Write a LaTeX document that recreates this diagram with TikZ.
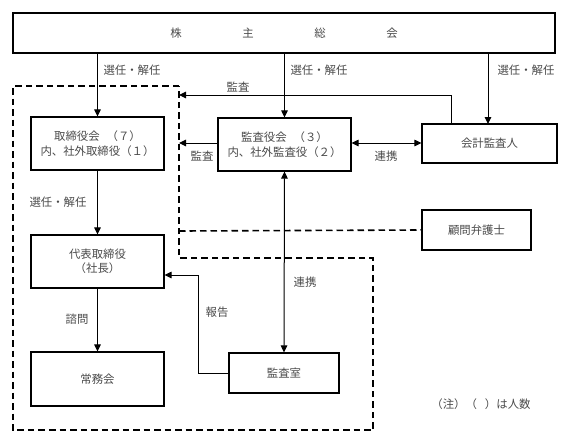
\documentclass[tikz,border=0pt]{standalone}
\usepackage{fontspec}
\newfontfamily\jp{Noto Sans CJK JP}
\usetikzlibrary{arrows.meta}
\definecolor{txt}{HTML}{4A4A4A}
\begin{document}
\begin{tikzpicture}[x=1pt,y=-1pt,
  every node/.style={font=\jp\fontsize{11.4}{14}\selectfont, text=txt},
  box/.style={draw=black, line width=1.1pt, inner sep=0pt, align=center},
  conn/.style={draw=black, line width=1pt},
  arr/.style={conn, -{Triangle[length=7pt,width=6.5pt]}},
  darr/.style={conn, {Triangle[length=7pt,width=6.5pt]}-{Triangle[length=7pt,width=6.5pt]}},
  dashline/.style={draw=black, line width=1.6pt, dash pattern=on 6.5pt off 4pt},
  lbl/.style={inner sep=0pt}]
\useasboundingbox (0,0) rectangle (571,445);
% boxes
\node[box, minimum width=542pt, minimum height=40pt] (top) at (284,33) {};
\node[lbl] (t1) at (176,33) {株};
\node[lbl] (t2) at (248,33) {主};
\node[lbl] (t3) at (320,33) {総};
\node[lbl] (t4) at (392,33) {会};
\node[box, minimum width=133pt, minimum height=53pt] (tori) at (97.5,143.5) {取締役会\hspace{0.6em}（７）\\[1pt]内、社外取締役（１）};
\node[box, minimum width=133pt, minimum height=53pt] (kansa) at (284.5,144.5) {監査役会\hspace{0.6em}（３）\\[1pt]内、社外監査役（２）};
\node[box, minimum width=135pt, minimum height=39pt] (kaikei) at (489.5,143.5) {会計監査人};
\node[box, minimum width=109pt, minimum height=40pt] (komon) at (476.5,230) {顧問弁護士};
\node[box, minimum width=133pt, minimum height=53pt] (daihyo) at (97.5,261.5) {代表取締役\\[0pt]（社長）};
\node[box, minimum width=133pt, minimum height=54pt] (jomu) at (97.5,379) {常務会};
\node[box, minimum width=110pt, minimum height=40pt] (shitsu) at (284,373) {監査室};
% dashed region
\draw[dashline] (179,86) -- (13,86) -- (13,430) -- (373,430) -- (373,258) -- (179,258) -- cycle;
\coordinate (dl) at (179,231);
\draw[dashline] (dl) -- (komon.west);
% coordinates
\coordinate (a1) at (179,95);
\coordinate (a1c) at (451,95);
\coordinate (a2) at (179,143);
\coordinate (r1) at (198,373);
\coordinate (r2) at (198,275);
% connectors
\draw[arr] (top.south -| tori.north) -- (tori.north);
\draw[arr] (top.south -| kansa.north) -- (kansa.north);
\draw[arr] (top.south -| 488,0) -- (488,124);
\draw[arr] (kaikei.north -| a1c) -- (a1c) -- (a1);
\draw[arr] (kansa.west |- a2) -- (a2);
\draw[darr] (kansa.east |- 0,143) -- (kaikei.west |- 0,143);
\draw[arr] (tori.south) -- (daihyo.north);
\draw[darr] (kansa.south) -- (shitsu.north);
\draw[arr] (shitsu.west) -- (r1) -- (r2) -- (daihyo.east |- r2);
\draw[arr] (daihyo.south) -- (jomu.north);
% labels
\node[lbl] (l1) at (132,70) {選任・解任};
\node[lbl] (l2) at (319,70) {選任・解任};
\node[lbl] (l3) at (526,70) {選任・解任};
\node[lbl] (l4) at (238,87) {監査};
\node[lbl] (l5) at (202,156) {監査};
\node[lbl] (l6) at (386,156) {連携};
\node[lbl] (l7) at (58,202) {選任・解任};
\node[lbl] (l8) at (305,282) {連携};
\node[lbl] (l9) at (217,312) {報告};
\node[lbl] (l10) at (77,319) {諮問};
\node[lbl] (n1) at (481,404) {（注）（\hspace{0.7em}）は人数};
\end{tikzpicture}
\end{document}
